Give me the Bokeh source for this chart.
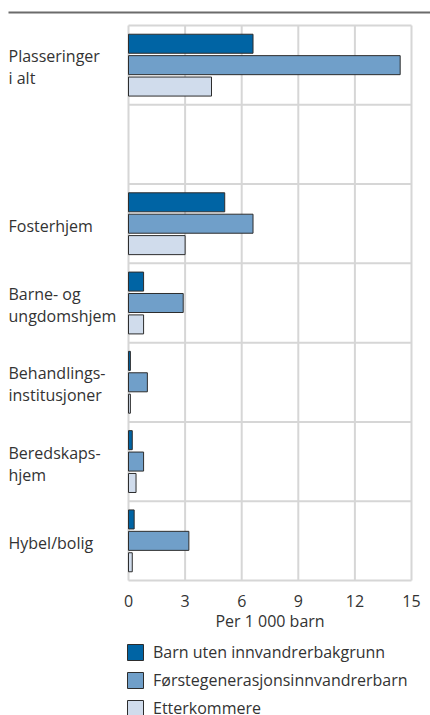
from bokeh.plotting import figure
from bokeh.models import Range1d, FixedTicker, Legend, LegendItem, ColumnDataSource, LinearAxis
from bokeh.core.properties import value
from bokeh.embed import file_html
from bokeh.resources import INLINE

# ---- data ----
categories = ["Plasseringer\ni alt", "", "Fosterhjem", "Barne- og\nungdomshjem",
              "Behandlings-\ninstitusjoner", "Beredskaps-\nhjem", "Hybel/bolig"]
barn_uten = [6.6, None, 5.1, 0.8, 0.1, 0.2, 0.3]
forstegenerasjon = [14.4, None, 6.6, 2.9, 1.0, 0.8, 3.2]
etterkommere = [4.4, None, 3.0, 0.8, 0.1, 0.4, 0.2]
series_names = ["Barn uten innvandrerbakgrunn", "Førstegenerasjonsinnvandrerbarn", "Etterkommere"]
x_ticks = [0, 3, 6, 9, 12, 15]
x_label = "Per 1 000 barn"

# ---- styles / geometry ----
FONT = "Open Sans"
TXT = "#333333"
GRID = "#d6d6d6"
colors = ["#0064a4", "#709fc9", "#d0dcec"]
OUT = "#2d2d2d"

W, H = 430, 715
n = len(categories)
# pixel geometry inside the figure (frame fills the figure)
px_left = 8                       # left edge of labels / top rule
px_zero, px_max = 128, 411        # where x=0 and x=15 fall
py_top_row, py_bottom = 25, 580   # top of first row, bottom of last row
py_rule = 12                      # top rule
x_unit = (px_max - px_zero) / (x_ticks[-1] - x_ticks[0])
y_unit = (py_bottom - py_top_row) / n
x_start = -px_zero / x_unit
x_end = x_ticks[-1] + (W - px_max) / x_unit
x_left = -(px_zero - px_left) / x_unit
y_end = n + py_top_row / y_unit
y_start = -(H - py_bottom) / y_unit
y_rule = n + (py_top_row - py_rule) / y_unit

centers = [n - i - 0.5 for i in range(n)]

p = figure(width=W, height=H, output_backend="svg", toolbar_location=None,
           x_range=Range1d(x_start, x_end), y_range=Range1d(y_start, y_end),
           x_axis_location=None, y_axis_location=None,
           min_border_left=0, min_border_right=0, min_border_top=0, min_border_bottom=0)
p.outline_line_color = None
p.background_fill_color = "white"
p.border_fill_color = "white"
p.xgrid.visible = False
p.ygrid.visible = False

# grid lines (bounded to the data area)
p.segment(x0=x_ticks, x1=x_ticks, y0=[0] * len(x_ticks), y1=[n] * len(x_ticks),
          line_color=GRID, line_width=2)
p.segment(x0=[x_ticks[0]] * (n + 1), x1=[x_ticks[-1]] * (n + 1),
          y0=list(range(n + 1)), y1=list(range(n + 1)),
          line_color=GRID, line_width=2)

# bars
offsets = [0.27, 0.0, -0.27]
renderers = []
for vals, off, col, name in zip([barn_uten, forstegenerasjon, etterkommere], offsets, colors, series_names):
    ys = [c + off for c, v in zip(centers, vals) if v is not None]
    xs = [v for v in vals if v is not None]
    src = ColumnDataSource(dict(y=ys, right=xs))
    r = p.hbar(y="y", right="right", left=0, height=0.24, source=src,
               fill_color=col, line_color=OUT, line_width=1)
    renderers.append((name, r))

# category labels
lab_src = ColumnDataSource(dict(x=[x_left] * n, y=centers, text=categories))
p.text(x="x", y="y", text="text", source=lab_src, text_align="left", text_baseline="middle",
       y_offset=2, text_font=value(FONT), text_font_size="16px", text_color=TXT,
       text_line_height=1.0)

# top rule
top_axis = LinearAxis(ticker=FixedTicker(ticks=[]), fixed_location=y_rule,
                      bounds=(x_left, x_end),
                      axis_line_color="#6b6b6b", axis_line_width=2,
                      major_tick_line_color=None, minor_tick_line_color=None,
                      major_label_text_font_size="0px")
p.add_layout(top_axis, "above")

# x axis
ax = LinearAxis(ticker=FixedTicker(ticks=x_ticks), fixed_location=0,
                bounds=(x_ticks[0], x_ticks[-1]),
                axis_line_color=None, major_tick_line_color=None, minor_tick_line_color=None,
                major_label_standoff=8, major_label_text_font=FONT,
                major_label_text_font_size="16px", major_label_text_color=TXT)
p.add_layout(ax, "below")

# axis title
p.text(x=[(x_ticks[0] + x_ticks[-1]) / 2], y=[0], text=[x_label], y_offset=40,
       text_align="center", text_baseline="middle", text_font=value(FONT),
       text_font_size="16px", text_color=TXT)

# legend
legend = Legend(items=[LegendItem(label=nm, renderers=[r]) for nm, r in renderers],
                location=(125, -4), orientation="vertical",
                glyph_width=20, glyph_height=20, label_height=20, label_standoff=8,
                spacing=6, padding=0, margin=0,
                border_line_color=None, background_fill_alpha=0,
                label_text_font=FONT, label_text_font_size="16px", label_text_color=TXT)
p.add_layout(legend, "center")

open("out.html", "w").write(file_html(p, INLINE))
